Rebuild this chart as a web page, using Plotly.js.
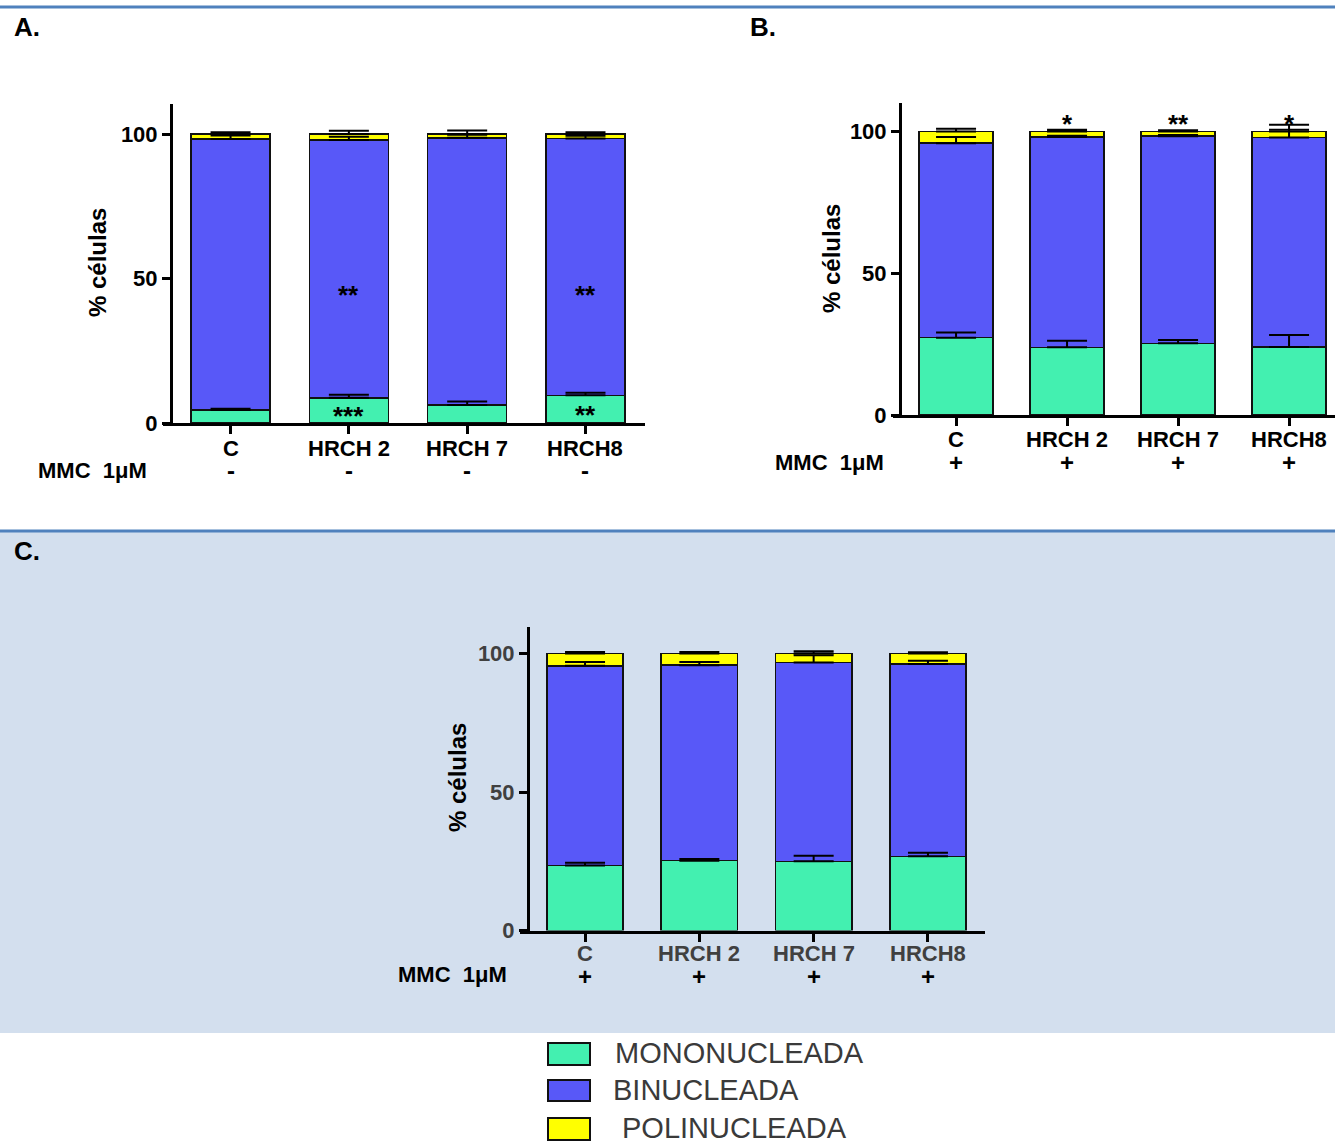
<!DOCTYPE html>
<html>
<head>
<meta charset="utf-8">
<script src="https://cdn.plot.ly/plotly-3.0.1.min.js"></script>
<style>html,body{margin:0;padding:0;background:#fff;}#chart{width:1335px;height:1144px;}</style>
</head>
<body>
<div id="chart"></div>
<script>
// ---------------- DATA ----------------
const categories = ['C', 'HRCH 2', 'HRCH 7', 'HRCH8'];
const seriesNames = ['MONONUCLEADA', 'BINUCLEADA', 'POLINUCLEADA'];
const yTickVals = [0, 50, 100];
const yTitle = '% células';
const mmcLabel = 'MMC  1μM';
const panelLabels = ['A.', 'B.', 'C.'];

// Panel A (MMC -)
const monoA = [4.5, 8.7, 6.2, 9.6];
const monoErrA = [0.4, 1.1, 1.2, 0.9];
const biA = [93.8, 89.2, 92.5, 88.9];
const biErrA = [1.2, 1.2, 1.1, 0.9];
const polyA = [1.7, 2.1, 1.3, 1.5];
const polyErrA = [0.6, 1.1, 1.2, 0.6];
const mmcA = ['-', '-', '-', '-'];
const sigMonoA = ['', '***', '', '**'];
const sigBiA = ['', '**', '', '**'];

// Panel B (MMC +)
const monoB = [27.3, 23.9, 25.3, 24.0];
const monoErrB = [1.8, 2.3, 1.2, 4.2];
const biB = [68.6, 74.2, 73.1, 73.9];
const biErrB = [2.2, 0.4, 0.4, 2.8];
const polyB = [4.1, 1.9, 1.6, 2.1];
const polyErrB = [1.0, 0.7, 0.5, 2.4];
const mmcB = ['+', '+', '+', '+'];
const sigTopB = ['', '*', '**', '*'];

// Panel C (MMC +)
const monoC = [23.5, 25.2, 25.0, 26.8];
const monoErrC = [1.0, 0.6, 2.0, 1.3];
const biC = [72.1, 70.6, 71.8, 69.4];
const biErrC = [1.4, 1.2, 2.6, 1.2];
const polyC = [4.4, 4.2, 3.2, 3.8];
const polyErrC = [0.6, 0.6, 0.8, 0.5];
const mmcC = ['+', '+', '+', '+'];

// ---------------- STYLE / LAYOUT ----------------
const W = 1335, H = 1144;
const px = x => x / W;
const py = y => 1 - y / H;
const colors = ['#43F0B0', '#5858F8', '#FFFF00'];
const FONT = 'Liberation Sans, Arial, sans-serif';

const panels = [
  {xa: 'x', ya: 'y', mono: monoA, monoErr: monoErrA, bi: biA, biErr: biErrA, poly: polyA, polyErr: polyErrA,
   xDom: [163, 645], yDom: [423, 104], yAxisX: 171, yMax: 110.4, xRange: [-0.571, 3.503],
   labelY: 448, signs: mmcA, signY: 471, mmcX: 92, mmcY: 470, titleX: 97, titleY: 263, textColor: '#000'},
  {xa: 'x2', ya: 'y2', mono: monoB, monoErr: monoErrB, bi: biB, biErr: biErrB, poly: polyB, polyErr: polyErrB,
   xDom: [893, 1335], yDom: [415, 103], yAxisX: 900, yMax: 110.1, xRange: [-0.568, 3.414],
   labelY: 439, signs: mmcB, signY: 462, mmcX: 829, mmcY: 462, titleX: 831, titleY: 259, textColor: '#000'},
  {xa: 'x3', ya: 'y3', mono: monoC, monoErr: monoErrC, bi: biC, biErr: biErrC, poly: polyC, polyErr: polyErrC,
   xDom: [520, 985], yDom: [930.5, 627], yAxisX: 528, yMax: 109.6, xRange: [-0.569, 3.499],
   labelY: 953, signs: mmcC, signY: 976, mmcX: 453, mmcY: 974, titleX: 457, titleY: 778, textColor: '#404040'}
];

const traces = [];
const annotations = [];
const layout = {
  width: W, height: H,
  margin: {l: 0, r: 0, t: 0, b: 0, pad: 0},
  paper_bgcolor: '#ffffff', plot_bgcolor: 'rgba(0,0,0,0)',
  barmode: 'stack', bargap: 0.333,
  showlegend: false,
  font: {family: FONT, color: '#000'},
  shapes: [
    {type: 'rect', xref: 'paper', yref: 'paper', x0: 0, x1: 1, y0: py(1033), y1: py(532), fillcolor: '#D3DFEE', line: {width: 0}, layer: 'below'},
    {type: 'line', xref: 'paper', yref: 'paper', x0: 0, x1: 1, y0: py(7), y1: py(7), line: {color: '#4F81BD', width: 3}, layer: 'below'},
    {type: 'line', xref: 'paper', yref: 'paper', x0: 0, x1: 1, y0: py(531), y1: py(531), line: {color: '#4F81BD', width: 3}, layer: 'below'}
  ],
  annotations: annotations
};

panels.forEach((p, i) => {
  const sfx = i === 0 ? '' : String(i + 1);
  const segs = [p.mono, p.bi, p.poly];
  const errs = [p.monoErr, p.biErr, p.polyErr];
  segs.forEach((vals, k) => {
    traces.push({
      type: 'bar', x: categories, y: vals, name: seriesNames[k],
      xaxis: p.xa, yaxis: p.ya,
      marker: {color: colors[k], line: {color: '#111', width: 1.5}},
      hoverinfo: 'skip'
    });
  });
  // error bars drawn on top (upper only), at cumulative top of each segment
  let cum = categories.map(() => 0);
  segs.forEach((vals, k) => {
    cum = cum.map((c, j) => c + vals[j]);
    traces.push({
      type: 'scatter', mode: 'markers', x: categories, y: cum.slice(),
      xaxis: p.xa, yaxis: p.ya, marker: {opacity: 0, size: 1},
      hoverinfo: 'skip', showlegend: false,
      error_y: {type: 'data', symmetric: false, array: errs[k], arrayminus: errs[k].map(() => 0),
                color: '#000', thickness: 2, width: 20}
    });
  });

  layout['xaxis' + sfx] = {
    domain: [px(p.xDom[0]), px(p.xDom[1])], anchor: p.ya, type: 'category',
    range: p.xRange, showgrid: false, zeroline: false,
    showline: true, linecolor: '#000', linewidth: 3,
    ticks: 'outside', ticklen: 8, tickwidth: 3, tickcolor: '#000',
    showticklabels: false,
    fixedrange: true
  };
  layout['yaxis' + sfx] = {
    domain: [py(p.yDom[0]), py(p.yDom[1])], anchor: 'free', position: px(p.yAxisX),
    range: [0, p.yMax], showgrid: false, zeroline: false,
    showline: true, linecolor: '#000', linewidth: 3,
    ticks: 'outside', ticklen: 8, tickwidth: 3, tickcolor: '#000',
    tickvals: yTickVals, ticktext: yTickVals.map(String),
    tickfont: {family: FONT, size: 22, weight: 'bold', color: p.textColor},
    fixedrange: true
  };

  // category labels (first row) and sign row (+ / -)
  categories.forEach((c, j) => {
    annotations.push({xref: p.xa, yref: 'paper', x: c, y: py(p.labelY), text: c,
      showarrow: false, xanchor: 'center', yanchor: 'middle',
      font: {family: FONT, size: 22, weight: 'bold', color: p.textColor}});
    annotations.push({xref: p.xa, yref: 'paper', x: c, y: py(p.signY), text: p.signs[j],
      showarrow: false, xanchor: 'center', yanchor: 'middle',
      font: {family: FONT, size: 24, weight: 'bold', color: '#000'}});
  });
  // MMC label
  annotations.push({xref: 'paper', yref: 'paper', x: px(p.mmcX), y: py(p.mmcY), text: mmcLabel,
    showarrow: false, xanchor: 'center', yanchor: 'middle',
    font: {family: FONT, size: 22, weight: 'bold', color: '#000'}});
  // y title
  annotations.push({xref: 'paper', yref: 'paper', x: px(p.titleX), y: py(p.titleY), text: yTitle,
    showarrow: false, xanchor: 'center', yanchor: 'middle', textangle: -90,
    font: {family: FONT, size: 24, weight: 'bold', color: '#000'}});
});

// significance marks
const sigFont = {family: FONT, size: 26, weight: 'bold', color: '#000'};
sigMonoA.forEach((s, j) => {
  if (!s) return;
  annotations.push({xref: 'x', yref: 'y', x: categories[j], y: monoA[j] / 2, text: s, showarrow: false,
    xanchor: 'center', yanchor: 'middle', yshift: -6, font: sigFont});
});
sigBiA.forEach((s, j) => {
  if (!s) return;
  annotations.push({xref: 'x', yref: 'y', x: categories[j], y: 46.2, text: s, showarrow: false,
    xanchor: 'center', yanchor: 'middle', yshift: -5, font: sigFont});
});
sigTopB.forEach((s, j) => {
  if (!s) return;
  const top = monoB[j] + biB[j] + polyB[j];
  annotations.push({xref: 'x2', yref: 'y2', x: categories[j], y: top, text: s, showarrow: false,
    xanchor: 'center', yanchor: 'bottom', yshift: -9, font: sigFont});
});

// panel labels
[[12, 27], [748, 27], [12, 551]].forEach((pos, i) => {
  annotations.push({xref: 'paper', yref: 'paper', x: px(pos[0]), y: py(pos[1]), text: panelLabels[i],
    showarrow: false, xanchor: 'left', yanchor: 'middle',
    font: {family: FONT, size: 26, weight: 'bold', color: '#000'}});
});

// legend (boxes + labels)
const legBoxes = [[1043, 1065, 613], [1080, 1101, 611], [1118, 1140, 620]];
seriesNames.forEach((n, k) => {
  const b = legBoxes[k];
  layout.shapes.push({type: 'rect', xref: 'paper', yref: 'paper', x0: px(548), x1: px(590),
    y0: py(b[1]), y1: py(b[0]), fillcolor: colors[k], line: {color: '#111', width: 2}});
  annotations.push({xref: 'paper', yref: 'paper', x: px(b[2]), y: py((b[0] + b[1]) / 2 - 1), text: n,
    showarrow: false, xanchor: 'left', yanchor: 'middle',
    font: {family: FONT, size: 29, color: '#3a3a3a'}});
});

Plotly.newPlot('chart', traces, layout, {displayModeBar: false, staticPlot: true});
</script>
</body>
</html>
